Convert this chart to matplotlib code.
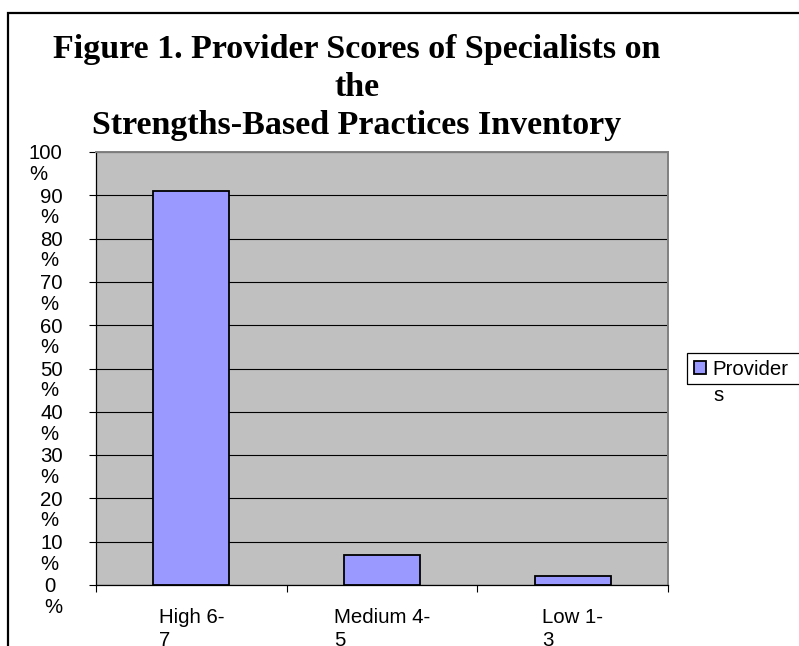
import matplotlib
matplotlib.use("Agg")
import matplotlib.pyplot as plt
from matplotlib.patches import Rectangle
from matplotlib.transforms import ScaledTranslation

categories = ["High 6-\n7", "Medium 4-\n5", "Low 1-\n3"]
providers = [91, 7, 2]
y_ticks = [0, 10, 20, 30, 40, 50, 60, 70, 80, 90, 100]
y_tick_labels = [f"{v}\n%" for v in y_ticks]
title = "Figure 1. Provider Scores of Specialists on\nthe\nStrengths-Based Practices Inventory"

W, H = 799, 646
fig = plt.figure(figsize=(W / 100, H / 100), dpi=100)
fig.patch.set_facecolor("white")
ax = fig.add_axes([96 / W, 1 - 585 / H, (668 - 96) / W, (585 - 152) / H])
ax.set_facecolor("#C0C0C0")

x = list(range(len(categories)))
bars = ax.bar(x, providers, width=0.4, color="#9999FF", edgecolor="black", linewidth=1.3, zorder=3)

ax.set_xlim(-0.5, len(categories) - 0.5)
ax.set_ylim(0, 100)

# gridlines
ax.set_yticks(y_ticks)
ax.yaxis.grid(True, color="black", linewidth=0.8, zorder=1)
ax.set_axisbelow(True)

fs = 14.7
ax.set_yticklabels(y_tick_labels, fontsize=fs, family="Liberation Sans",
                   va="top", multialignment="left", linespacing=1.1)
ax.tick_params(axis="y", direction="out", length=5, width=0.8, pad=19, color="black")
# number line centred on the tick, "%" hangs below
for lbl in ax.get_yticklabels():
    lbl.set_transform(lbl.get_transform() + ScaledTranslation(0, 0.077, fig.dpi_scale_trans))

ax.set_xticks(x)
ax.set_xticklabels(categories, fontsize=fs, family="Liberation Sans",
                   ha="center", multialignment="left", linespacing=1.3)
ax.set_xticks([i - 0.5 for i in range(len(categories) + 1)], minor=True)
ax.tick_params(axis="x", which="major", length=0, pad=16.5)
ax.tick_params(axis="x", which="minor", direction="out", length=5, width=0.8, color="black")

for s in ["left", "bottom"]:
    ax.spines[s].set_color("black")
    ax.spines[s].set_linewidth(0.9)
for s in ["top", "right"]:
    ax.spines[s].set_color("#808080")
    ax.spines[s].set_linewidth(1.4)

# legend (frame drawn separately, it runs off the right edge)
leg = ax.legend([bars], ["Provider"], loc="upper left",
                bbox_to_anchor=(687 / W, 1 - 353 / H), bbox_transform=fig.transFigure,
                prop={"family": "Liberation Sans", "size": fs},
                handlelength=0.6, handleheight=0.6, handletextpad=0.3,
                borderpad=0.35, borderaxespad=0, frameon=False)
fig.patches.append(Rectangle((687 / W, 1 - 384 / H), 0.3, 31 / H, transform=fig.transFigure,
                             fill=False, edgecolor="black", linewidth=0.9))
fig.text(713 / W, 1 - 386 / H, "s", fontsize=fs, family="Liberation Sans", va="top", ha="left")

# title (last line baseline anchored)
fig.text(357 / W, 1 - 134 / H, title, fontsize=24.5, family="Liberation Serif",
         weight="bold", ha="center", va="baseline", multialignment="center", linespacing=1.3)

# outer chart border
fig.patches.append(Rectangle((8 / W, -0.1), 1.2, 1 - 13 / H + 0.1, transform=fig.transFigure,
                             fill=False, edgecolor="black", linewidth=1.6))

fig.savefig("out.png", dpi=100)
